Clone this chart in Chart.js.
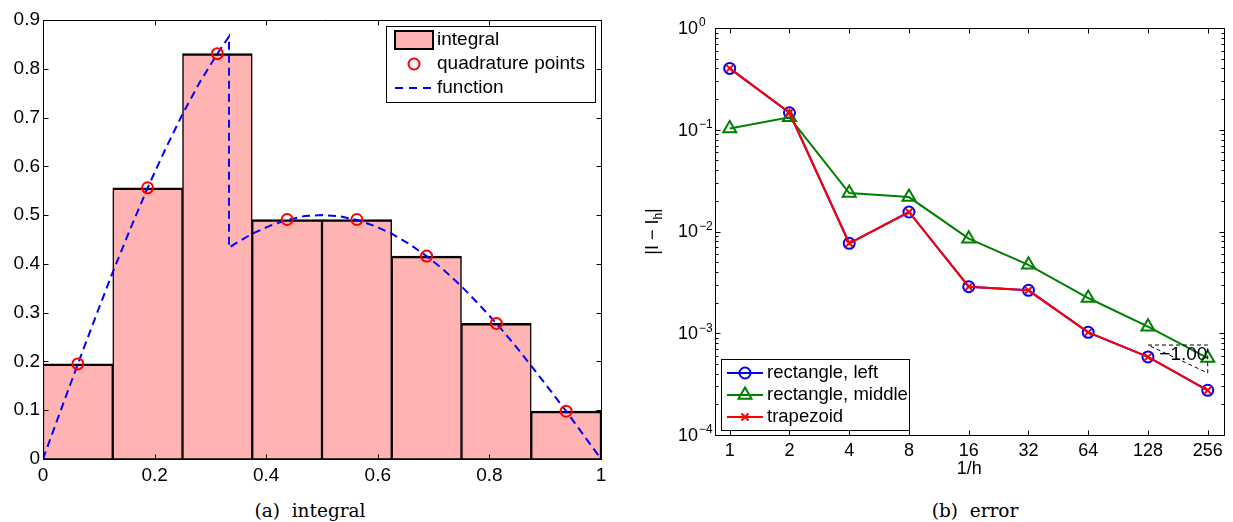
<!DOCTYPE html>
<html><head><meta charset="utf-8">
<script src="https://cdn.jsdelivr.net/npm/chart.js@4.4.1/dist/chart.umd.min.js"></script>
<style>
html,body{margin:0;padding:0;background:#fff;}
body{width:1233px;height:522px;position:relative;overflow:hidden;}
.panel{position:absolute;top:0;height:495px;}
.cap{position:absolute;font-family:"DejaVu Serif",serif;font-size:18.5px;line-height:1;white-space:pre;transform:translate(-50%,-50%);color:#000;}
</style></head><body>
<div class="panel" style="left:0;width:620px"><canvas id="ca"></canvas></div>
<div class="panel" style="left:630px;width:603px"><canvas id="cb"></canvas></div>
<div class="cap" style="left:310px;top:511px">(a)  integral</div>
<div class="cap" style="left:975px;top:511px">(b)  error</div>
<script>
// ---------- panel (a): integral ----------
const binCenters = [0.0625,0.1875,0.3125,0.4375,0.5625,0.6875,0.8125,0.9375];
const binIntegral = [0.195,0.556,0.831,0.491,0.491,0.416,0.278,0.098];
const quadX = [0.0625,0.1875,0.3125,0.4375,0.5625,0.6875,0.8125,0.9375];
const quadY = [0.195,0.556,0.831,0.491,0.491,0.416,0.278,0.098];
const funcX = [0,0.03125,0.0625,0.09375,0.125,0.15625,0.1875,0.21875,0.25,0.28125,0.3125,0.3333,0.3333,
  0.34375,0.375,0.40625,0.4375,0.46875,0.5,0.53125,0.5625,0.59375,0.625,0.65625,0.6875,0.71875,0.75,
  0.78125,0.8125,0.84375,0.875,0.90625,0.9375,0.96875,1];
const funcY = [0,0.098,0.195,0.290,0.383,0.471,0.556,0.634,0.707,0.773,0.831,0.866,0.433,
  0.441,0.462,0.478,0.490,0.498,0.500,0.498,0.490,0.478,0.462,0.441,0.416,0.387,0.354,
  0.317,0.278,0.236,0.191,0.145,0.098,0.049,0];
const xTicksA = [0,0.2,0.4,0.6,0.8,1];
const xTickLabelsA = ['0','0.2','0.4','0.6','0.8','1'];
const yTicksA = [0,0.1,0.2,0.3,0.4,0.5,0.6,0.7,0.8,0.9];
const yTickLabelsA = ['0','0.1','0.2','0.3','0.4','0.5','0.6','0.7','0.8','0.9'];
const legendLabelsA = ['integral','quadrature points','function'];

// ---------- panel (b): error ----------
const invH = [1,2,4,8,16,32,64,128,256];
const invHLabels = ['1','2','4','8','16','32','64','128','256'];
const errRectLeft = [0.401,0.147,0.00766,0.01555,0.00287,0.00264,0.00102,0.000585,0.000275];
const errRectMid  = [0.103,0.1325,0.0239,0.0218,0.0085,0.0047,0.00222,0.00116,0.000571];
const errTrap     = [0.401,0.147,0.00766,0.01555,0.00287,0.00264,0.00102,0.000585,0.000275];
const seriesNamesB = ['rectangle, left','rectangle, middle','trapezoid'];
const yDecadeExps = [0,-1,-2,-3,-4];
const slopeTriX = [128,256,256,128];
const slopeTriY = [0.000766,0.000766,0.000407,0.000766];
const slopeText = '\u22121.00';
const slopeTextAt = {x:193, y:0.000615};
const xTitleB = '1/h';

const FONT = '"Liberation Sans", Arial, Helvetica, sans-serif';
Chart.defaults.font.family = FONT;
Chart.defaults.color = '#000';

const BLUE='#0000ff', GREEN='#008000', RED='#ff0000', PINK='#ffb3b3';

function px(v){return Math.round(v)+0.5;}
function marker(ctx, style, x, y, r, color, lw){
  ctx.save(); ctx.strokeStyle=color; ctx.lineWidth=lw; ctx.setLineDash([]); ctx.beginPath();
  if(style==='circle'){ctx.arc(x,y,r,0,Math.PI*2);}
  else if(style==='triangle'){
    for(let i=0;i<3;i++){const a=i*2*Math.PI/3; const X=x+Math.sin(a)*r, Y=y-Math.cos(a)*r; if(i) ctx.lineTo(X,Y); else ctx.moveTo(X,Y);}
    ctx.closePath();
  } else if(style==='crossRot'){
    const d=Math.cos(Math.PI/4)*r; ctx.moveTo(x-d,y-d);ctx.lineTo(x+d,y+d);ctx.moveTo(x-d,y+d);ctx.lineTo(x+d,y-d);
  }
  ctx.stroke(); ctx.restore();
}
function drawFrame(chart, len, minorVals, minorLen){
  const {ctx, chartArea:a, scales} = chart; const xs=scales.x, ys=scales.y;
  const L=px(a.left), R=px(a.right), T=px(a.top), B=px(a.bottom);
  ctx.save(); ctx.strokeStyle='#000'; ctx.lineWidth=1; ctx.setLineDash([]);
  ctx.beginPath(); ctx.rect(L,T,R-L,B-T);
  xs.ticks.forEach(t=>{const p=px(xs.getPixelForValue(t.value)); ctx.moveTo(p,B); ctx.lineTo(p,B-len); ctx.moveTo(p,T); ctx.lineTo(p,T+len);});
  ys.ticks.forEach(t=>{const p=px(ys.getPixelForValue(t.value)); ctx.moveTo(L,p); ctx.lineTo(L+len,p); ctx.moveTo(R,p); ctx.lineTo(R-len,p);});
  (minorVals||[]).forEach(v=>{const p=px(ys.getPixelForValue(v)); ctx.moveTo(L,p); ctx.lineTo(L+minorLen,p); ctx.moveTo(R,p); ctx.lineTo(R-minorLen,p);});
  ctx.stroke(); ctx.restore();
}
function legendBox(ctx, x, y, w, h){
  ctx.save(); ctx.fillStyle='#fff'; ctx.fillRect(x,y,w,h);
  ctx.strokeStyle='#000'; ctx.lineWidth=1; ctx.strokeRect(px(x),px(y),Math.round(w),Math.round(h)); ctx.restore();
}

// ---------- chart (a) ----------
new Chart(document.getElementById('ca'), {
  type:'bar',
  data:{datasets:[
    {type:'line', label:legendLabelsA[1], data:quadX.map((x,i)=>({x, y:quadY[i]})), showLine:false,
     pointStyle:'circle', pointRadius:5.5, pointBorderWidth:2, pointBorderColor:RED, pointBackgroundColor:'rgba(0,0,0,0)', order:0},
    {type:'line', label:legendLabelsA[2], data:funcX.map((x,i)=>({x, y:funcY[i]})), borderColor:BLUE, borderWidth:2,
     borderDash:[8,5], pointRadius:0, tension:0, fill:false, order:1},
    {type:'bar', label:legendLabelsA[0], data:binCenters.map((x,i)=>({x, y:binIntegral[i]})), backgroundColor:PINK,
     borderColor:'#000', borderWidth:{top:2.5,right:1.5,bottom:1,left:1.5}, borderSkipped:false,
     barPercentage:1, categoryPercentage:1, order:2}
  ]},
  options:{
    responsive:true, maintainAspectRatio:false, animation:false, devicePixelRatio:1, events:[],
    layout:{padding:{top:20,right:19,left:0,bottom:0}},
    plugins:{legend:{display:false}, tooltip:{enabled:false}},
    scales:{
      x:{type:'linear', min:0, max:1, offset:false, grid:{display:false, drawTicks:false, offset:false}, border:{display:false},
         afterBuildTicks:s=>{s.ticks=xTicksA.map(v=>({value:v}));},
         ticks:{font:{size:19}, color:'#000', padding:5, autoSkip:false, maxRotation:0,
                callback:(v)=>{const i=xTicksA.indexOf(v); return i>=0?xTickLabelsA[i]:'';}},
         afterFit:s=>{s.height=36;}},
      y:{type:'linear', min:0, max:0.9, grid:{display:false, drawTicks:false}, border:{display:false},
         afterBuildTicks:s=>{s.ticks=yTicksA.map(v=>({value:v}));},
         ticks:{font:{size:19}, color:'#000', padding:3, autoSkip:false,
                callback:(v)=>{const i=yTicksA.indexOf(v); return i>=0?yTickLabelsA[i]:'';}},
         afterFit:s=>{s.width=43;}}
    }
  },
  plugins:[{
    id:'matlabA',
    afterDatasetsDraw(chart){ drawFrame(chart,5); },
    afterDraw(chart){
      const {ctx, chartArea:a} = chart; const ds=chart.data.datasets;
      const w=209, h=76, x=a.right-6-w, y=a.top+6;
      legendBox(ctx,x,y,w,h);
      ctx.save(); ctx.font='19px '+FONT; ctx.fillStyle='#000'; ctx.textBaseline='middle'; ctx.textAlign='left';
      const rows=[y+14,y+38,y+62], sx0=x+9, sx1=x+47, tx=x+51;
      // integral
      ctx.fillStyle=ds[2].backgroundColor; ctx.fillRect(sx0,rows[0]-9,38,18);
      ctx.strokeStyle='#000'; ctx.lineWidth=2; ctx.strokeRect(sx0,rows[0]-9,38,18);
      ctx.fillStyle='#000'; ctx.fillText(ds[2].label,tx,rows[0]);
      // quadrature points
      marker(ctx,'circle',(sx0+sx1)/2,rows[1],5.5,RED,2);
      ctx.fillText(ds[0].label,tx,rows[1]);
      // function
      ctx.strokeStyle=ds[1].borderColor; ctx.lineWidth=2; ctx.setLineDash([8,6]);
      ctx.beginPath(); ctx.moveTo(sx0,rows[2]); ctx.lineTo(sx1,rows[2]); ctx.stroke(); ctx.setLineDash([]);
      ctx.fillText(ds[1].label,tx,rows[2]);
      ctx.restore();
    }
  }]
});

// ---------- chart (b) ----------
const minorB = [];
for (let e=-4; e<0; e++) for (let m=2; m<=9; m++) minorB.push(m*Math.pow(10,e));
const styleB = [
  {color:BLUE, style:'circle', r:5.5},
  {color:GREEN, style:'triangle', r:7.5},
  {color:RED, style:'crossRot', r:5}
];
const seriesB = [errRectLeft, errRectMid, errTrap];
new Chart(document.getElementById('cb'), {
  type:'line',
  data:{datasets:[
    ...seriesB.map((arr,k)=>({
      label:seriesNamesB[k], data:invH.map((x,i)=>({x, y:arr[i]})),
      borderColor:styleB[k].color, borderWidth:2, tension:0, fill:false,
      pointStyle:styleB[k].style, pointRadius:styleB[k].r, pointBorderWidth:2,
      pointBorderColor:styleB[k].color, pointBackgroundColor:'rgba(0,0,0,0)', order:3-k
    })),
    {label:'slope', data:slopeTriX.map((x,i)=>({x, y:slopeTriY[i]})), borderColor:'#000', borderWidth:1,
     borderDash:[4,3], pointRadius:0, tension:0, fill:false, order:0}
  ]},
  options:{
    responsive:true, maintainAspectRatio:false, animation:false, devicePixelRatio:1, events:[],
    layout:{padding:{top:28,right:2,left:0,bottom:0}},
    plugins:{legend:{display:false}, tooltip:{enabled:false}},
    scales:{
      x:{type:'logarithmic', min:0.843, max:307.4, offset:false, grid:{display:false, drawTicks:false}, border:{display:false},
         afterBuildTicks:s=>{s.ticks=invH.map(v=>({value:v}));},
         ticks:{font:{size:18}, color:'#000', padding:5, autoSkip:false, maxRotation:0,
                callback:(v)=>{const i=invH.indexOf(v); return i>=0?invHLabels[i]:'';}},
         afterFit:s=>{s.height=60;}},
      y:{type:'logarithmic', min:1e-4, max:1, grid:{display:false, drawTicks:false}, border:{display:false},
         afterBuildTicks:s=>{s.ticks=yDecadeExps.map(e=>({value:Math.pow(10,e)}));},
         ticks:{display:false},
         afterFit:s=>{s.width=85;}}
    }
  },
  plugins:[{
    id:'matlabB',
    afterDatasetsDraw(chart){
      drawFrame(chart,5,minorB,3);
      const {ctx, scales:{x:xs,y:ys}} = chart;
      ctx.save(); ctx.fillStyle='#000'; ctx.font='19px '+FONT; ctx.textAlign='center'; ctx.textBaseline='middle';
      ctx.fillText(slopeText, xs.getPixelForValue(slopeTextAt.x), ys.getPixelForValue(slopeTextAt.y));
      ctx.restore();
    },
    afterDraw(chart){
      const {ctx, chartArea:a, scales:{x:xs,y:ys}} = chart;
      ctx.save(); ctx.fillStyle='#000';
      // y tick labels 10^e
      yDecadeExps.forEach(e=>{
        const y=ys.getPixelForValue(Math.pow(10,e));
        ctx.font='18px '+FONT; ctx.textAlign='left'; ctx.textBaseline='middle';
        ctx.fillText('10',48,y+1);
        const w=ctx.measureText('10').width;
        ctx.font='12px '+FONT;
        ctx.fillText(e===0?'0':'\u2212'+(-e),48+w+1,y-5);
      });
      // y title |I - I_h|
      ctx.save(); ctx.translate(28,(a.top+a.bottom)/2); ctx.rotate(-Math.PI/2);
      ctx.textBaseline='alphabetic'; ctx.textAlign='left';
      ctx.font='18px '+FONT; const p1='|I \u2212 I', p3='|';
      const w1=ctx.measureText(p1).width, w3=ctx.measureText(p3).width;
      ctx.font='12px '+FONT; const w2=ctx.measureText('h').width;
      let sx=-(w1+w2+w3)/2;
      ctx.font='18px '+FONT; ctx.fillText(p1,sx,0); sx+=w1;
      ctx.font='12px '+FONT; ctx.fillText('h',sx,4); sx+=w2;
      ctx.font='18px '+FONT; ctx.fillText(p3,sx,0);
      ctx.restore();
      // x title
      ctx.font='18px '+FONT; ctx.textAlign='center'; ctx.textBaseline='middle';
      ctx.fillText(xTitleB,(a.left+a.right)/2,469);
      // legend
      const w=188, h=71, x=a.left+6, y=a.bottom-5-h;
      legendBox(ctx,x,y,w,h);
      const rows=[y+14,y+36,y+58], sx0=x+6, sx1=x+42, tx=x+46;
      ctx.font='18.5px '+FONT; ctx.textAlign='left'; ctx.textBaseline='middle';
      for(let k=0;k<3;k++){
        const ds=chart.data.datasets[k];
        ctx.strokeStyle=ds.borderColor; ctx.lineWidth=2; ctx.setLineDash([]);
        ctx.beginPath(); ctx.moveTo(sx0,rows[k]); ctx.lineTo(sx1,rows[k]); ctx.stroke();
        marker(ctx, styleB[k].style, (sx0+sx1)/2, rows[k], styleB[k].r, styleB[k].color, 2);
        ctx.fillStyle='#000'; ctx.fillText(ds.label,tx,rows[k]);
      }
      ctx.restore();
    }
  }]
});
</script>
</body></html>
